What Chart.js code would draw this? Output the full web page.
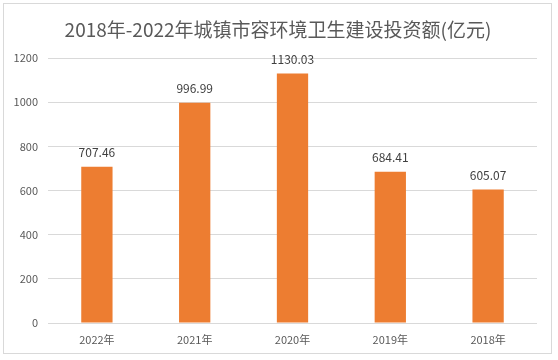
<!DOCTYPE html>
<html><head><meta charset="utf-8">
<script src="https://cdn.jsdelivr.net/npm/chart.js@4/dist/chart.umd.min.js"></script>
<style>
html,body{margin:0;padding:0;background:#fff;}
#wrap{position:relative;width:558px;height:360px;}
#frame{position:absolute;left:3px;top:3px;width:549px;height:351px;border:1px solid #d9d9d9;box-sizing:border-box;pointer-events:none;}
canvas{position:absolute;left:0;top:0;}
</style>
</head><body>
<div id="wrap"><canvas id="c" width="558" height="360"></canvas><div id="frame"></div></div>
<script>
const titleText = '2018年-2022年城镇市容环境卫生建设投资额(亿元)';
const categories = ['2022年','2021年','2020年','2019年','2018年'];
const values = [707.46, 996.99, 1130.03, 684.41, 605.07];
const yTicks = [0,200,400,600,800,1000,1200];
const font = '"Noto Sans CJK SC", "Noto Sans", sans-serif';

const labelPlugin = {
  id: 'barLabels',
  afterDatasetsDraw(chart) {
    const ctx = chart.ctx;
    const meta = chart.getDatasetMeta(0);
    ctx.save();
    ctx.font = '12px ' + font;
    ctx.fillStyle = '#404040';
    ctx.textAlign = 'center';
    ctx.textBaseline = 'middle';
    meta.data.forEach((bar, i) => {
      ctx.fillText(values[i].toFixed(2), bar.x, bar.y - 14);
    });
    // centered title over the whole canvas
    ctx.font = '19px ' + font;
    ctx.fillStyle = '#595959';
    ctx.fillText(titleText, chart.width / 2 - 1, 30);
    ctx.restore();
  }
};

new Chart(document.getElementById('c'), {
  type: 'bar',
  data: {
    labels: categories,
    datasets: [{
      data: values,
      backgroundColor: '#ed7d31',
      categoryPercentage: 1,
      barPercentage: 0.32
    }]
  },
  options: {
    responsive: false,
    animation: false,
    layout: { padding: { left: 3, right: 21, top: 58, bottom: 0 } },
    plugins: {
      legend: { display: false },
      tooltip: { enabled: false },
      title: { display: false }
    },
    scales: {
      x: {
        grid: { display: false, drawTicks: false },
        border: { display: false },
        ticks: { color: '#595959', font: { family: font, size: 11 }, padding: 10 },
        afterFit(s) { s.height = 37; }
      },
      y: {
        min: 0, max: 1200,
        afterBuildTicks(s) { s.ticks = yTicks.map(v => ({ value: v })); },
        grid: { color: '#d9d9d9', drawTicks: false },
        border: { display: false },
        ticks: { color: '#595959', font: { family: font, size: 11 }, padding: 10,
                 callback: v => String(v) },
        afterFit(s) { s.width = 45; }
      }
    }
  },
  plugins: [labelPlugin]
});
</script>
</body></html>
